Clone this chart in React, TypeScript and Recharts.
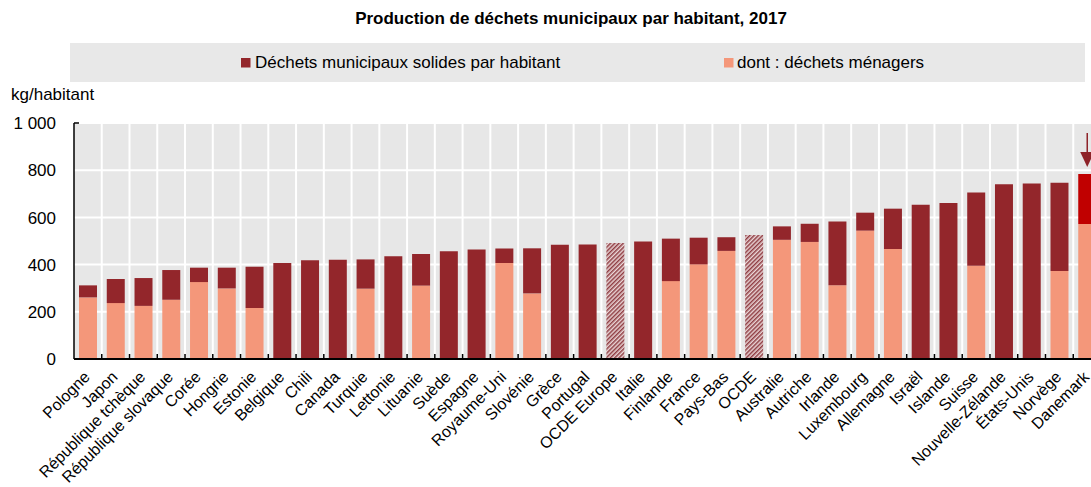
import { BarChart, Bar, XAxis, YAxis, CartesianGrid, Cell, LabelList } from 'recharts'

// Municipal waste per inhabitant, 2017 (kg)
const COUNTRIES = [
  'Pologne', 'Japon', 'République tchèque', 'République slovaque', 'Corée', 'Hongrie',
  'Estonie', 'Belgique', 'Chili', 'Canada', 'Turquie', 'Lettonie', 'Lituanie', 'Suède',
  'Espagne', 'Royaume-Uni', 'Slovénie', 'Grèce', 'Portugal', 'OCDE Europe', 'Italie',
  'Finlande', 'France', 'Pays-Bas', 'OCDE', 'Australie', 'Autriche', 'Irlande',
  'Luxembourg', 'Allemagne', 'Israël', 'Islande', 'Suisse', 'Nouvelle-Zélande',
  'États-Unis', 'Norvège', 'Danemark'
]
const TOTAL = [
  312, 339, 343, 377, 387, 387, 391, 407, 418, 421, 422, 435, 445, 457, 464, 468, 469,
  484, 485, 491, 498, 510, 514, 516, 525, 562, 573, 583, 620, 637, 654, 661, 706, 740,
  744, 747, 784
]
// household share, null where not reported
const HOUSEHOLD = [
  261, 237, 225, 251, 326, 299, 216, null, null, null, 298, null, 311, null, null, 407,
  278, null, null, null, null, 330, 401, 458, null, 505, 496, 313, 544, 466, null, null,
  395, null, null, 373, 572
]
const AGGREGATES = ['OCDE Europe', 'OCDE']
const HIGHLIGHT = 'Danemark'
const Y_TICKS = [0, 200, 400, 600, 800, 1000]

const DARK = '#93262B'
const LIGHT = '#F4977A'
const RED = '#C00000'
const FONT = '"Liberation Sans", Arial, Helvetica, sans-serif'

const CHART_W = 1101
const CHART_H = 487
const Y_AXIS_W = 74
const BAND = (CHART_W - Y_AXIS_W) / COUNTRIES.length

const data = COUNTRIES.map((name, i) => {
  const hh = HOUSEHOLD[i] ?? 0
  return { name, household: hh, rest: TOTAL[i] - hh }
})

function restFill(name: string) {
  if (AGGREGATES.includes(name)) return 'url(#hatch)'
  if (name === HIGHLIGHT) return RED
  return DARK
}

function CountryTick(props: any) {
  const { x, y, payload, index } = props
  return (
    <g>
      {index > 0 && (
        <line x1={x - BAND / 2} x2={x - BAND / 2} y1={y - 5} y2={y} stroke="#000" strokeWidth={1.5} />
      )}
      <text
        transform={`translate(${x + 3},${y + 19}) rotate(-45)`}
        textAnchor="end"
        fontSize={16}
        fontFamily={FONT}
        fill="#000"
      >
        {payload.value}
      </text>
    </g>
  )
}

function ValueTick(props: any) {
  const { x, y, payload } = props
  const v = payload.value
  return (
    <g>
      {v === 1000 && <line x1={x} x2={x + 5} y1={y} y2={y} stroke="#000" strokeWidth={1.5} />}
      <text x={x - 18} y={y} dy="0.36em" textAnchor="end" fontSize={17} fontFamily={FONT} fill="#000">
        {v === 1000 ? '1 000' : v}
      </text>
    </g>
  )
}

function ArrowMark(props: any) {
  const { x, y, width, index } = props
  if (COUNTRIES[index] !== HIGHLIGHT) return null
  const cx = x + width / 2
  return (
    <g>
      <line x1={cx} x2={cx} y1={y - 41} y2={y - 20} stroke="#8E2329" strokeWidth={1.5} />
      <path d={`M${cx - 7},${y - 22} L${cx + 7},${y - 22} L${cx},${y - 7} Z`} fill="#8E2329" />
    </g>
  )
}

export default function App() {
  return (
    <div
      style={{
        position: 'fixed',
        left: 0,
        top: 0,
        width: 1091,
        height: 487,
        overflow: 'hidden',
        background: '#fff'
      }}
    >
      <svg width={0} height={0} style={{ position: 'absolute' }}>
        <defs>
          <pattern id="hatch" patternUnits="userSpaceOnUse" width={3} height={3} patternTransform="rotate(45)">
            <rect width={3} height={3} fill="#EAD6D7" />
            <rect width={1.5} height={3} fill="#8F3C42" />
          </pattern>
        </defs>
      </svg>

      <BarChart
        width={CHART_W}
        height={CHART_H}
        data={data}
        margin={{ top: 123, right: 0, bottom: 0, left: 0 }}
        barSize={18}
      >
        <CartesianGrid
          fill="#E7E7E7"
          fillOpacity={1}
          stroke="#fff"
          strokeWidth={2}
          verticalCoordinatesGenerator={({ offset }: any) =>
            COUNTRIES.slice(1).map((_, i) => offset.left + ((i + 1) * offset.width) / COUNTRIES.length)
          }
        />
        <XAxis
          dataKey="name"
          interval={0}
          height={128}
          tickSize={0}
          tickMargin={0}
          tickLine={false}
          axisLine={{ stroke: '#000', strokeWidth: 2 }}
          tick={<CountryTick />}
        />
        <YAxis
          width={Y_AXIS_W}
          domain={[0, 1000]}
          ticks={Y_TICKS}
          tickSize={0}
          tickMargin={0}
          tickLine={false}
          axisLine={{ stroke: '#000', strokeWidth: 1.5 }}
          tick={<ValueTick />}
        />
        <Bar dataKey="household" stackId="a" fill={LIGHT} isAnimationActive={false} />
        <Bar dataKey="rest" stackId="a" isAnimationActive={false}>
          {data.map(d => (
            <Cell key={d.name} fill={restFill(d.name)} />
          ))}
          <LabelList dataKey="rest" content={<ArrowMark />} />
        </Bar>
      </BarChart>

      <svg
        width={1091}
        height={110}
        style={{ position: 'absolute', left: 0, top: 0, pointerEvents: 'none' }}
        fontFamily={FONT}
      >
        <text x={571} y={24} textAnchor="middle" fontSize={17} fontWeight="bold" fill="#000">
          Production de déchets municipaux par habitant, 2017
        </text>
        <rect x={70} y={43} width={1015} height={39} fill="#E8E8E8" />
        <rect x={241} y={58} width={9.5} height={9.5} fill={DARK} />
        <text x={255} y={68} fontSize={17} fill="#000">
          Déchets municipaux solides par habitant
        </text>
        <rect x={724} y={58} width={9.5} height={9.5} fill={LIGHT} />
        <text x={737} y={68} fontSize={17} fill="#000">
          dont : déchets ménagers
        </text>
        <text x={11} y={100} fontSize={17} fill="#000">
          kg/habitant
        </text>
      </svg>
    </div>
  )
}
